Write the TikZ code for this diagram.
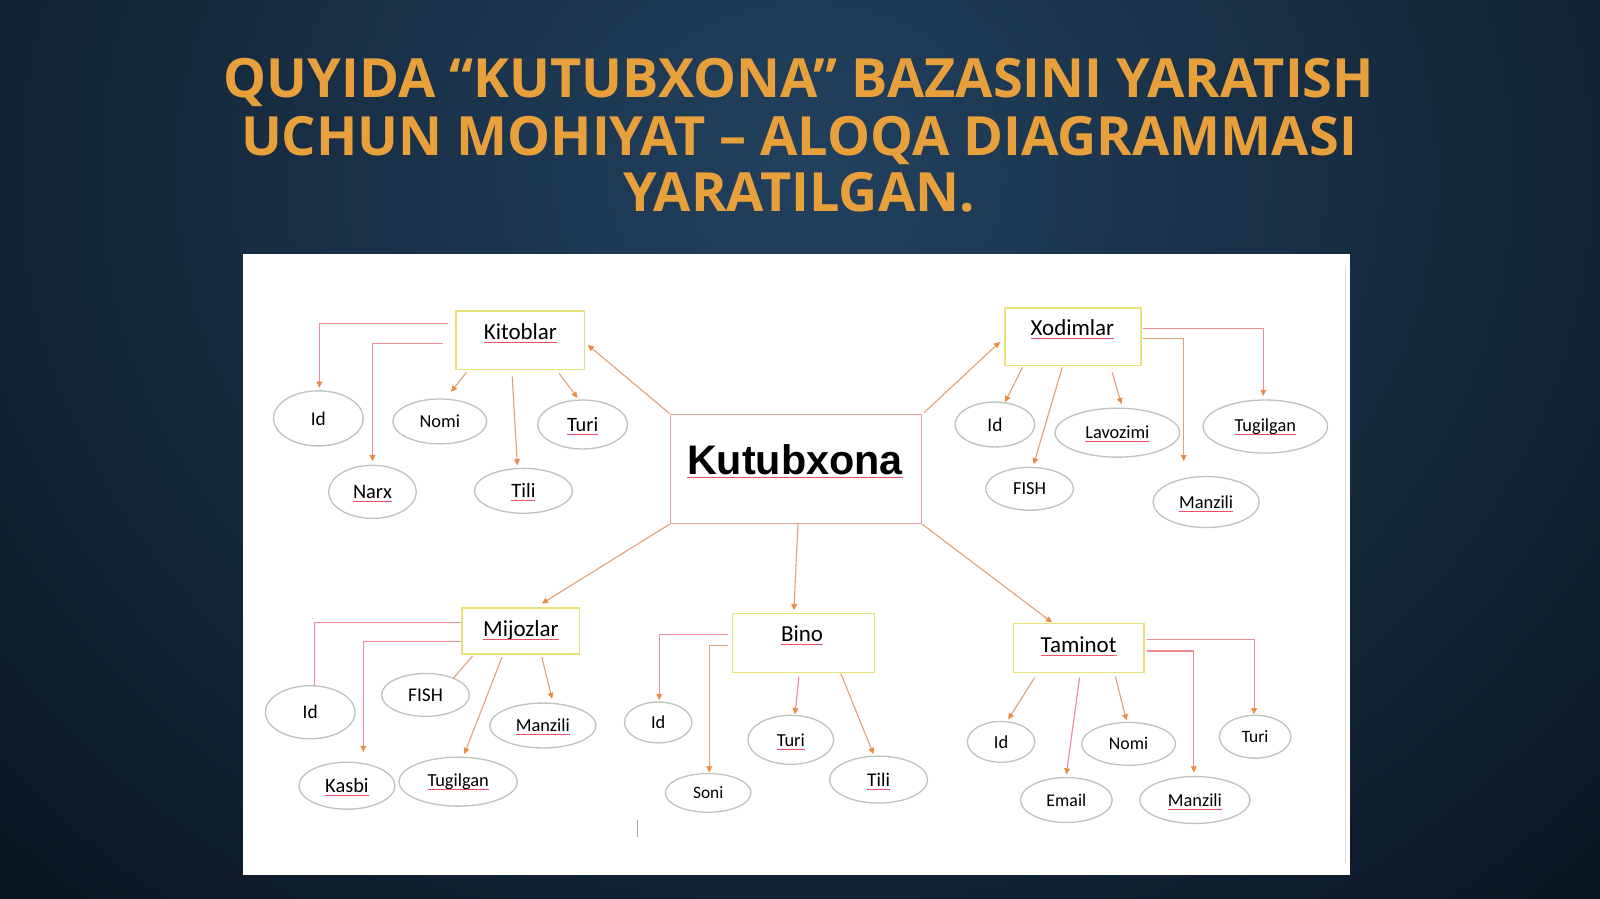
\documentclass[tikz,border=0pt]{standalone}
\usepackage{fontspec}
\setmainfont{Carlito}
\newfontfamily\titlefont{Open Sans}
\newfontfamily\arialfont{Liberation Sans}
\usetikzlibrary{arrows.meta,shapes.geometric}
\definecolor{bgout}{HTML}{0A1520}
\definecolor{bgin}{HTML}{22415F}
\definecolor{titlec}{HTML}{E8A03C}
\definecolor{entc}{HTML}{E8E27A}
\definecolor{kutc}{HTML}{E6A6A6}
\definecolor{ellc}{HTML}{BCC5BB}
\definecolor{pinkc}{HTML}{EE8C96}
\definecolor{orc}{HTML}{E2A275}
\definecolor{tipc}{HTML}{E98A45}
\definecolor{spellc}{HTML}{E8506A}
\newcommand\spellu[1]{\leavevmode\setbox0\hbox{#1}\rlap{\copy0}\smash{\raisebox{-3.2pt}{\color{spellc}\rule{\wd0}{0.8pt}}}}
\begin{document}
\begin{tikzpicture}[x=1pt,y=-1pt,
  ttl/.style={anchor=base, text=titlec, font=\titlefont\bfseries\fontsize{53}{56}\selectfont},
  ent/.style={draw=entc, line width=1.5pt, fill=white, inner sep=0pt},
  etext/.style={anchor=base, inner sep=0pt, font=\fontsize{22.5}{24}\selectfont},
  attr/.style={ellipse, draw=ellc, line width=1.3pt, fill=white, inner sep=0pt, font=\fontsize{18}{20}\selectfont},
  pline/.style={draw=pinkc, line width=1.1pt},
  oline/.style={draw=orc, line width=1.1pt},
  arr/.style={-{Triangle[length=6pt,width=5.5pt,color=tipc]}}
]
\useasboundingbox (0,0) rectangle (1568,881);
% background
\fill[bgout] (0,0) rectangle (1568,881);
\begin{scope}
\clip (0,0) rectangle (1568,881);
\shade[inner color=bgin, outer color=bgout] (790,170) ellipse [x radius=1150, y radius=1000];
\end{scope}
% title
\node[ttl] (t1) at (783,96) {QUYIDA “KUTUBXONA” BAZASINI YARATISH};
\node[ttl] (t2) at (783,152) {UCHUN MOHIYAT – ALOQA DIAGRAMMASI};
\node[ttl] (t3) at (783,207) {YARATILGAN.};
% panel
\fill[white] (238,249) rectangle (1323,857);
\draw[black!12, line width=1pt] (1318.5,262) -- (1318.5,845);
\draw[black!35, line width=0.8pt] (625,804) -- (625,820);

% entity boxes
\node[ent, minimum width=126pt, minimum height=57pt] (kit) at (510,333.5) {};
\node[etext] (kitT) at (510,333) {\spellu{Kitoblar}};
\node[ent, minimum width=133pt, minimum height=56pt] (xod) at (1051.5,330) {};
\node[etext] (xodT) at (1051,328.5) {\spellu{Xodimlar}};
\node[draw=kutc, line width=1.3pt, fill=white, inner sep=0pt, minimum width=246pt, minimum height=107pt] (kut) at (780,459.5) {};
\node[anchor=base, inner sep=0pt, font=\arialfont\bfseries\fontsize{40.5}{42}\selectfont] (kutT) at (779,465) {\spellu{Kutubxona}};
\node[ent, minimum width=115pt, minimum height=45pt] (mij) at (510.5,618.5) {};
\node[etext] (mijT) at (510.5,623.5) {\spellu{Mijozlar}};
\node[ent, minimum width=139pt, minimum height=58pt] (bino) at (787.5,630) {};
\node[etext] (binoT) at (786,628.5) {\spellu{Bino}};
\node[ent, minimum width=128pt, minimum height=48pt] (tam) at (1057,635) {};
\node[etext] (tamT) at (1057,639) {\spellu{Taminot}};

% Kitoblar attributes
\node[attr, minimum width=88pt, minimum height=54pt, font=\fontsize{19}{20}\selectfont] (kid) at (312,410) {Id};
\node[attr, minimum width=92pt, minimum height=44pt] (knomi) at (431,413) {Nomi};
\node[attr, minimum width=88pt, minimum height=48pt, font=\fontsize{20}{22}\selectfont] (kturi) at (571,416) {\spellu{Turi}};
\node[attr, minimum width=86pt, minimum height=52pt, font=\fontsize{20}{22}\selectfont] (knarx) at (365,482) {\spellu{Narx}};
\node[attr, minimum width=96pt, minimum height=44pt, font=\fontsize{20}{22}\selectfont] (ktili) at (513,481) {\spellu{Tili}};

% Xodimlar attributes
\node[attr, minimum width=78pt, minimum height=44pt, font=\fontsize{19}{20}\selectfont] (xid) at (975,416) {Id};
\node[attr, minimum width=122pt, minimum height=48pt] (xlav) at (1095,424) {\spellu{Lavozimi}};
\node[attr, minimum width=122pt, minimum height=52pt] (xtug) at (1240,418) {\spellu{Tugilgan}};
\node[attr, minimum width=86pt, minimum height=42pt] (xfish) at (1009,479) {FISH};
\node[attr, minimum width=104pt, minimum height=50pt] (xman) at (1182,492) {\spellu{Manzili}};

% Mijozlar attributes
\node[attr, minimum width=88pt, minimum height=52pt, font=\fontsize{19}{20}\selectfont] (mid) at (304,698) {Id};
\node[attr, minimum width=86pt, minimum height=42pt, font=\fontsize{19}{20}\selectfont] (mfish) at (417,681) {FISH};
\node[attr, minimum width=104pt, minimum height=44pt] (mman) at (532,711) {\spellu{Manzili}};
\node[attr, minimum width=94pt, minimum height=46pt, font=\fontsize{20}{22}\selectfont] (mkas) at (340,770) {\spellu{Kasbi}};
\node[attr, minimum width=116pt, minimum height=48pt] (mtug) at (449,766) {\spellu{Tugilgan}};

% Bino attributes
\node[attr, minimum width=66pt, minimum height=40pt] (bid) at (645,708) {Id};
\node[attr, minimum width=84pt, minimum height=48pt] (bturi) at (775,725) {\spellu{Turi}};
\node[attr, minimum width=96pt, minimum height=46pt, font=\fontsize{19}{20}\selectfont] (btili) at (861,764) {\spellu{Tili}};
\node[attr, minimum width=84pt, minimum height=38pt, font=\fontsize{17}{18}\selectfont] (bsoni) at (694,777) {Soni};

% Taminot attributes
\node[attr, minimum width=66pt, minimum height=40pt] (tid) at (981,727) {Id};
\node[attr, minimum width=92pt, minimum height=42pt, font=\fontsize{17.5}{19}\selectfont] (tnomi) at (1106,729) {Nomi};
\node[attr, minimum width=70pt, minimum height=42pt, font=\fontsize{17}{18}\selectfont] (tturi) at (1230,722) {Turi};
\node[attr, minimum width=90pt, minimum height=44pt, font=\fontsize{17.5}{19}\selectfont] (temail) at (1045,784) {Email};
\node[attr, minimum width=108pt, minimum height=46pt] (tman) at (1171,784) {\spellu{Manzili}};

% Kutubxona to entities
\draw[oline, arr] (kut.north west) -- ([shift={(66,4.5)}]kit.center);
\draw[oline, arr] ([shift={(2,-1)}]kut.north east) -- ([shift={(-71.5,5)}]xod.center);
\draw[oline, arr] (kut.south west) -- ([shift={(20.5,-27)}]mij.center);
\draw[oline, arr] ([xshift=2pt]kut.south) -- ([shift={(-9.5,-32)}]bino.center);
\draw[oline, arr] (kut.south east) -- ([shift={(-26,-25)}]tam.center);

% Kitoblar connectors
\draw[pline, arr] ([shift={(-71,-16.5)}]kit.center) -| ([shift={(1,-30)}]kid.center);
\draw[pline, arr] ([shift={(-76,3.5)}]kit.center) -| ([shift={(0,-30)}]knarx.center);
\draw[oline, arr] ([shift={(-53,31.5)}]kit.center) -- ([shift={(11,-29)}]knomi.center);
\draw[oline, arr] ([shift={(-8,35.5)}]kit.center) -- ([shift={(-6,-25)}]ktili.center);
\draw[oline, arr] ([shift={(38,32.5)}]kit.center) -- ([shift={(-5,-26)}]kturi.center);

% Xodimlar connectors
\draw[oline, arr] ([shift={(-49.5,30)}]xod.center) -- ([shift={(10,-22)}]xid.center);
\draw[oline, arr] ([shift={(-10.5,30)}]xod.center) -- ([shift={(4,-24)}]xfish.center);
\draw[oline, arr] ([shift={(38.5,35)}]xod.center) -- ([shift={(4,-28)}]xlav.center);
\draw[oline, arr] ([shift={(68.5,2)}]xod.center) -| ([shift={(-22,-40)}]xman.center);
\draw[pline, arr] ([shift={(68.5,-8)}]xod.center) -| ([shift={(-2,-30)}]xtug.center);

% Mijozlar connectors
\draw[pline] ([shift={(-58.5,-8.5)}]mij.center) -| ([shift={(4,-26)}]mid.center);
\draw[pline, arr] ([shift={(-58.5,10.5)}]mij.center) -| ([shift={(16,-33)}]mkas.center);
\draw[oline] ([shift={(-47.5,24.5)}]mij.center) -- ([shift={(27,-16)}]mfish.center);
\draw[oline, arr] ([shift={(-18.5,25.5)}]mij.center) -- ([shift={(6,-27)}]mtug.center);
\draw[oline, arr] ([shift={(20.5,25.5)}]mij.center) -- ([shift={(9,-26)}]mman.center);

% Bino connectors
\draw[pline, arr] ([shift={(-74.5,-8)}]bino.center) -| ([shift={(1,-22)}]bid.center);
\draw[oline, arr] ([shift={(-74.5,3)}]bino.center) -| ([shift={(1,-20)}]bsoni.center);
\draw[pline, arr] ([shift={(-4.5,33)}]bino.center) -- ([shift={(4,-25)}]bturi.center);
\draw[oline, arr] ([shift={(36.5,30)}]bino.center) -- ([shift={(-5,-25)}]btili.center);

% Taminot connectors
\draw[oline, arr] ([shift={(-43,29)}]tam.center) -- ([shift={(7,-22)}]tid.center);
\draw[pline, arr] ([shift={(1,29)}]tam.center) -- ([shift={(0,-25)}]temail.center);
\draw[oline, arr] ([shift={(36,28)}]tam.center) -- ([shift={(-2,-23)}]tnomi.center);
\draw[pline, arr] ([shift={(67,3)}]tam.center) -| ([shift={(-1,-27)}]tman.center);
\draw[pline, arr] ([shift={(67,-8)}]tam.center) -| ([shift={(-1,-22)}]tturi.center);
\end{tikzpicture}
\end{document}
